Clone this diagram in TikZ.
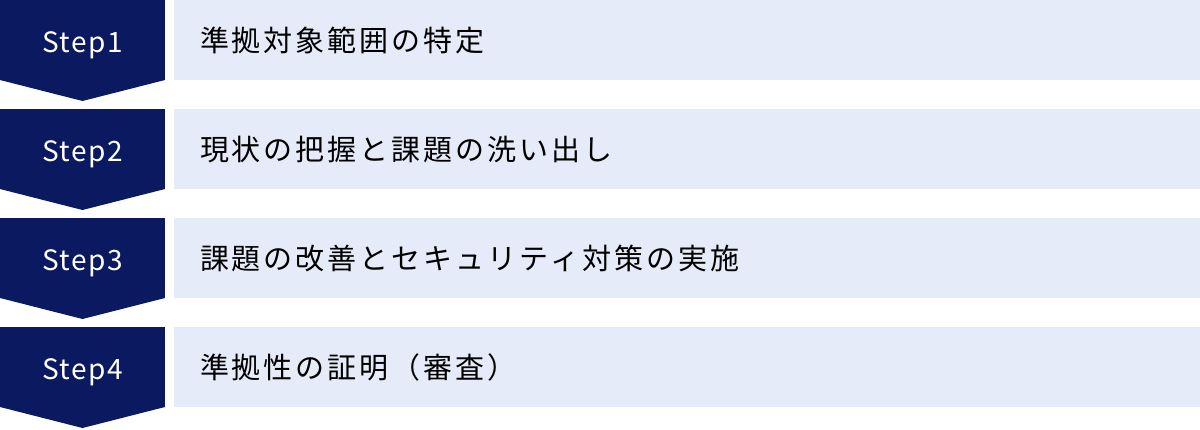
\documentclass[tikz,border=0pt]{standalone}
\usepackage{fontspec}
\setmainfont[LetterSpace=10.3]{Noto Sans CJK JP}
\newfontfamily\stepfont[LetterSpace=5]{Noto Sans CJK JP}
\usetikzlibrary{positioning}
\definecolor{stepnavy}{HTML}{0B1A60}
\definecolor{itemblue}{HTML}{E5EBF8}

\begin{document}
\begin{tikzpicture}[x=1pt,y=1pt,
    stepbox/.style={rectangle,fill=stepnavy,text=white,minimum width=165pt,minimum height=80pt,
      inner sep=0pt,outer sep=0pt,text height=24pt,text depth=0pt,
      font=\stepfont\fontsize{28pt}{32pt}\selectfont},
    itembox/.style={rectangle,fill=itemblue,text=black,minimum height=80pt,text width=974pt,
      inner xsep=26pt,inner ysep=0pt,outer sep=0pt,align=left,text height=22pt,text depth=0pt,
      font=\fontsize{29pt}{34pt}\selectfont},
    tip/.style={fill=stepnavy}]

    \useasboundingbox (0,0) rectangle (1200,-429);

    \node (S1) [stepbox] at (82.5,-40) {Step1};
    \node (S2) [stepbox, below=29pt of S1] {Step2};
    \node (S3) [stepbox, below=29pt of S2] {Step3};
    \node (S4) [stepbox, below=29pt of S3] {Step4};

    % arrow points under each step
    \fill[tip] (S1.south west) -- (S1.south east) -- ([yshift=-21pt]S1.south) -- cycle;
    \fill[tip] (S2.south west) -- (S2.south east) -- ([yshift=-21pt]S2.south) -- cycle;
    \fill[tip] (S3.south west) -- (S3.south east) -- ([yshift=-21pt]S3.south) -- cycle;
    \fill[tip] (S4.south west) -- (S4.south east) -- ([yshift=-21pt]S4.south) -- cycle;

    \node (T1) [itembox, right=9pt of S1] {準拠対象範囲の特定};
    \node (T2) [itembox, right=9pt of S2] {現状の把握と課題の洗い出し};
    \node (T3) [itembox, right=9pt of S3] {課題の改善とセキュリティ対策の実施};
    \node (T4) [itembox, right=9pt of S4] {準拠性の証明（審査）};

\end{tikzpicture}
\end{document}
